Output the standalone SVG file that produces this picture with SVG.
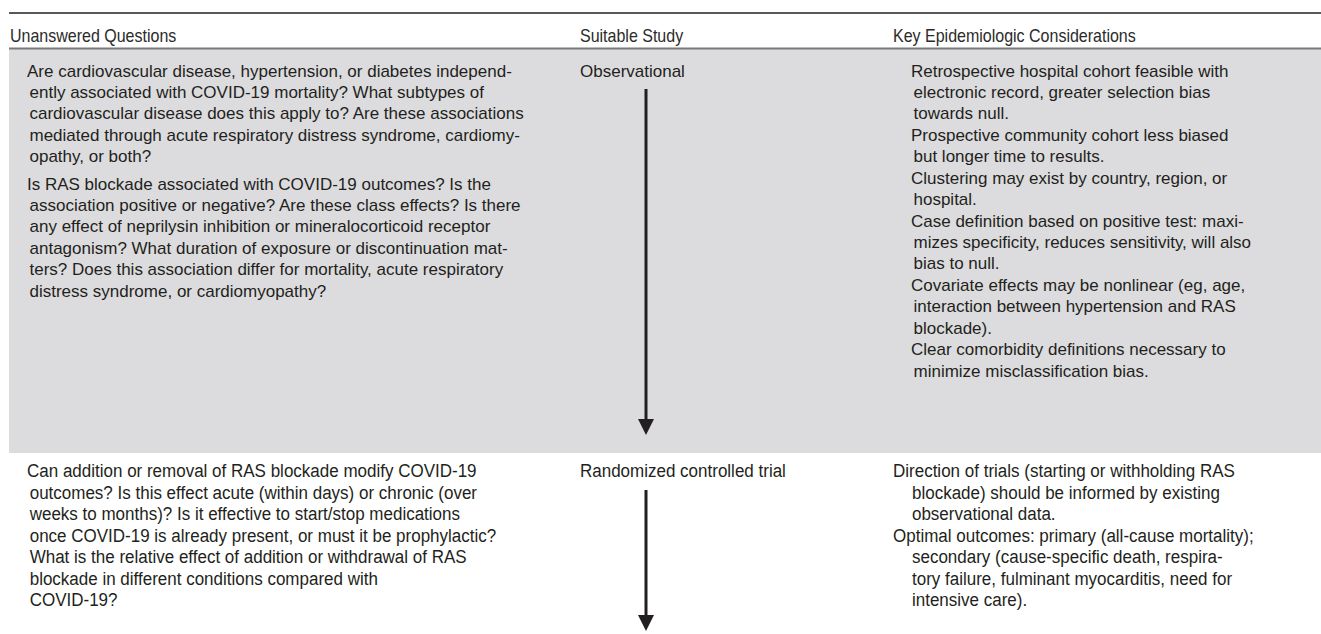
<svg xmlns="http://www.w3.org/2000/svg" width="1321" height="634" viewBox="0 0 1321 634">
<style>
  text { font-family: "Liberation Sans", Arial, sans-serif; fill: #231f20; }
  .hd { font-size: 18px; fill: #2b2b2b; }
  .tx { font-size: 17px; }
  .cx { font-size: 19px; }
  .rule { stroke: #231f20; stroke-width: 1.5; }
  .hrule { stroke: #7a7a7a; stroke-width: 2; }
  .shaft { stroke: #231f20; stroke-width: 3; fill: none; }
</style>
<defs>
  <marker id="ah" viewBox="0 0 16 16" refX="0" refY="8" markerWidth="16" markerHeight="16" markerUnits="userSpaceOnUse" orient="auto">
    <path d="M0,0 L16,8 L0,16 z" fill="#231f20"/>
  </marker>
</defs>
<rect width="1321" height="634" fill="#ffffff"/>
<g id="table-frame">
  <rect x="9" y="49" width="1312" height="404" fill="#dcdcde"/>
  <line class="rule" x1="9" y1="13" x2="1321" y2="13"/>
  <line class="hrule" x1="9" y1="48.5" x2="1321" y2="48.5"/>
</g>
<g id="header">
  <g transform="translate(10,0) scale(0.89,1)"><text class="hd" x="0" y="42.5">Unanswered Questions</text></g>
  <g transform="translate(580,0) scale(0.89,1)"><text class="hd" x="0" y="42.5">Suitable Study</text></g>
  <g transform="translate(893,0) scale(0.89,1)"><text class="hd" x="0" y="42.5">Key Epidemiologic Considerations</text></g>
</g>
<g id="questions-observational">
  <text class="tx" x="27" y="76.5">Are cardiovascular disease, hypertension, or diabetes independ-</text>
  <text class="tx" x="29.5" y="97.9">ently associated with COVID-19 mortality? What subtypes of</text>
  <text class="tx" x="29.5" y="119.4">cardiovascular disease does this apply to? Are these associations</text>
  <text class="tx" x="29.5" y="140.8">mediated through acute respiratory distress syndrome, cardiomy-</text>
  <text class="tx" x="29.5" y="162.2">opathy, or both?</text>
  <text class="tx" x="27" y="189.5">Is RAS blockade associated with COVID-19 outcomes? Is the</text>
  <text class="tx" x="29.5" y="210.9">association positive or negative? Are these class effects? Is there</text>
  <text class="tx" x="29.5" y="232.4">any effect of neprilysin inhibition or mineralocorticoid receptor</text>
  <text class="tx" x="29.5" y="253.8">antagonism? What duration of exposure or discontinuation mat-</text>
  <text class="tx" x="29.5" y="275.2">ters? Does this association differ for mortality, acute respiratory</text>
  <text class="tx" x="29.5" y="296.7">distress syndrome, or cardiomyopathy?</text>
</g>
<g id="study-observational">
  <text class="tx" x="580" y="76.5">Observational</text>
</g>
<g id="considerations-observational">
  <text class="tx" x="911" y="76.5">Retrospective hospital cohort feasible with</text>
  <text class="tx" x="913.5" y="97.9">electronic record, greater selection bias</text>
  <text class="tx" x="913.5" y="119.4">towards null.</text>
  <text class="tx" x="911" y="140.8">Prospective community cohort less biased</text>
  <text class="tx" x="913.5" y="162.2">but longer time to results.</text>
  <text class="tx" x="911" y="183.6">Clustering may exist by country, region, or</text>
  <text class="tx" x="913.5" y="205.1">hospital.</text>
  <text class="tx" x="911" y="226.5">Case definition based on positive test: maxi-</text>
  <text class="tx" x="913.5" y="247.9">mizes specificity, reduces sensitivity, will also</text>
  <text class="tx" x="913.5" y="269.4">bias to null.</text>
  <text class="tx" x="911" y="290.8">Covariate effects may be nonlinear (eg, age,</text>
  <text class="tx" x="913.5" y="312.2">interaction between hypertension and RAS</text>
  <text class="tx" x="913.5" y="333.6">blockade).</text>
  <text class="tx" x="911" y="355.1">Clear comorbidity definitions necessary to</text>
  <text class="tx" x="913.5" y="376.5">minimize misclassification bias.</text>
</g>
<g id="questions-rct" transform="translate(27,0) scale(0.895,1)">
  <text class="cx" x="0" y="477.5">Can addition or removal of RAS blockade modify COVID-19</text>
  <text class="cx" x="3" y="498.9">outcomes? Is this effect acute (within days) or chronic (over</text>
  <text class="cx" x="3" y="520.4">weeks to months)? Is it effective to start/stop medications</text>
  <text class="cx" x="3" y="541.8">once COVID-19 is already present, or must it be prophylactic?</text>
  <text class="cx" x="3" y="563.2">What is the relative effect of addition or withdrawal of RAS</text>
  <text class="cx" x="3" y="584.6">blockade in different conditions compared with</text>
  <text class="cx" x="3" y="606.1">COVID-19?</text>
</g>
<g id="study-rct" transform="translate(580,0) scale(0.895,1)">
  <text class="cx" x="0" y="477.5">Randomized controlled trial</text>
</g>
<g id="considerations-rct" transform="translate(893,0) scale(0.895,1)">
  <text class="cx" x="0" y="477.5">Direction of trials (starting or withholding RAS</text>
  <text class="cx" x="21.2" y="498.9">blockade) should be informed by existing</text>
  <text class="cx" x="21.2" y="520.4">observational data.</text>
  <text class="cx" x="0" y="541.8">Optimal outcomes: primary (all-cause mortality);</text>
  <text class="cx" x="21.2" y="563.2">secondary (cause-specific death, respira-</text>
  <text class="cx" x="21.2" y="584.6">tory failure, fulminant myocarditis, need for</text>
  <text class="cx" x="21.2" y="606.1">intensive care).</text>
</g>
<g id="connectors">
  <line class="shaft" x1="646" y1="89" x2="646" y2="419" marker-end="url(#ah)"/>
  <line class="shaft" x1="646" y1="490" x2="646" y2="615" marker-end="url(#ah)"/>
</g>
</svg>
